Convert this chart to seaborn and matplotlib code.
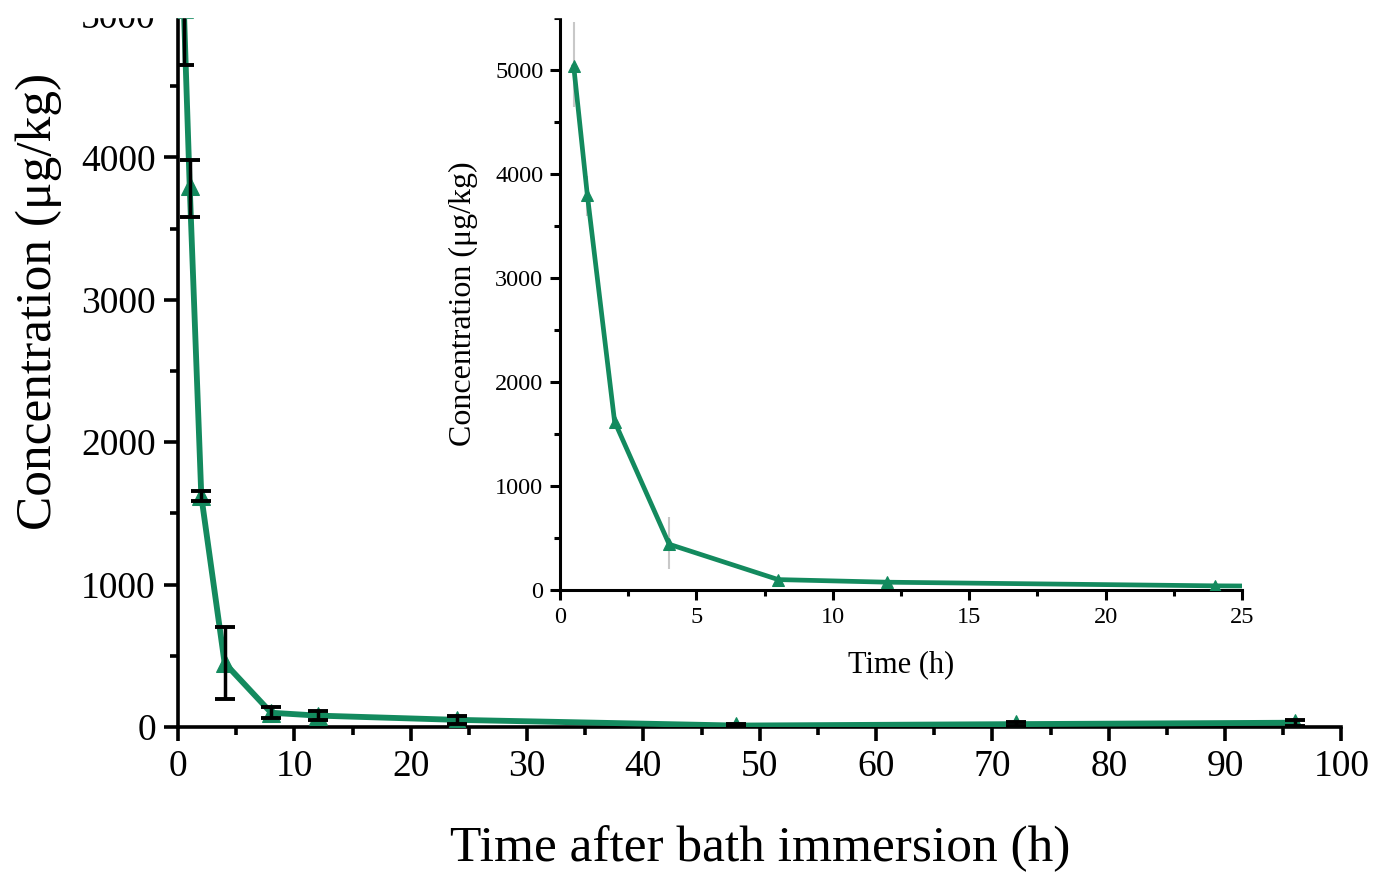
import numpy as np
import matplotlib.pyplot as plt
import seaborn as sns
from matplotlib.ticker import MultipleLocator
from matplotlib.patches import Rectangle

# sampling times (h) and mean residue concentration (ug/kg)
time_h = [0.5, 1, 2, 4, 8, 12, 24, 48, 72, 96]
conc = [5040, 3800, 1620, 450, 100, 80, 50, 10, 20, 30]
err_lo = [390, 220, 30, 250, 40, 30, 30, 10, 15, 20]
err_hi = [420, 180, 40, 250, 40, 30, 30, 10, 15, 20]

# inset (first 25 h)
inset_time = [0.5, 1, 2, 4, 8, 12, 24, 48]
inset_conc = [5040, 3800, 1620, 440, 100, 75, 40, 10]
inset_lo = [400, 200, 40, 240, 30, 20, 20, 5]
inset_hi = [420, 180, 40, 260, 30, 20, 20, 5]

green = "#138a5e"

sns.set_style("ticks")
plt.rcParams["font.family"] = ["Liberation Serif", "DejaVu Serif"]
plt.rcParams["text.color"] = "black"
plt.rcParams["axes.labelcolor"] = "black"

fig = plt.figure(figsize=(13.76, 8.72), dpi=100)

# ---- main axes ----
ax = fig.add_axes([0.1294, 0.1663, 0.8455, 0.8165])
sns.lineplot(x=time_h, y=conc, ax=ax, color=green, linewidth=4.2, marker="^",
             markersize=13, markeredgecolor=green, zorder=3)
ax.errorbar(time_h, conc, yerr=[err_lo, err_hi], fmt="none", ecolor="black",
            elinewidth=2.5, capsize=7, capthick=2.8, zorder=4)
ax.set_xlim(0, 100)
ax.set_ylim(0, 5000)
ax.xaxis.set_major_locator(MultipleLocator(10))
ax.xaxis.set_minor_locator(MultipleLocator(5))
ax.yaxis.set_major_locator(MultipleLocator(1000))
ax.yaxis.set_minor_locator(MultipleLocator(500))
for side in ["top", "right"]:
    ax.spines[side].set_visible(False)
for side in ["left", "bottom"]:
    ax.spines[side].set_linewidth(2.6)
    ax.spines[side].set_color("black")
ax.tick_params(which="major", length=10, width=2.6, labelsize=27,
               colors="black", pad=6)
ax.tick_params(which="minor", length=6, width=2.6, colors="black")
ax.set_xlabel("Time after bath immersion (h)", fontsize=37, labelpad=30)
ax.set_ylabel("Concentration (μg/kg)", fontsize=37)
ax.yaxis.set_label_coords(-0.1, 0.597)

# ---- inset ----
ins = fig.add_axes([0.407, 0.3234, 0.4956, 0.6571])
ins.errorbar(inset_time, inset_conc, yerr=[inset_lo, inset_hi], fmt="none",
             ecolor="#c8c8c8", elinewidth=1.5, capsize=0, zorder=2)
sns.lineplot(x=inset_time, y=inset_conc, ax=ins, color=green, linewidth=3.4,
             marker="^", markersize=9, markeredgecolor=green, zorder=3)
ins.set_xlim(0, 25)
ins.set_ylim(0, 5510)
ins.xaxis.set_major_locator(MultipleLocator(5))
ins.xaxis.set_minor_locator(MultipleLocator(2.5))
ins.yaxis.set_major_locator(MultipleLocator(1000))
ins.yaxis.set_minor_locator(MultipleLocator(500))
ins.patch.set_alpha(0)
for side in ["top", "right"]:
    ins.spines[side].set_visible(False)
for side in ["left", "bottom"]:
    ins.spines[side].set_linewidth(2.2)
    ins.spines[side].set_color("black")
ins.tick_params(which="major", length=7, width=2.2, labelsize=17.5,
                colors="black", pad=5)
ins.tick_params(which="minor", length=4, width=2.2, colors="black")
ins.set_xlabel("Time (h)", fontsize=22, labelpad=16)
ins.set_ylabel("Concentration (μg/kg)", fontsize=23, labelpad=12)

# the source picture is cropped along its top edge
fig.patches.append(Rectangle((0, 1 - 17 / 872), 1, 17 / 872,
                             transform=fig.transFigure, color="white",
                             zorder=10))

fig.savefig("out.png", dpi=100)
